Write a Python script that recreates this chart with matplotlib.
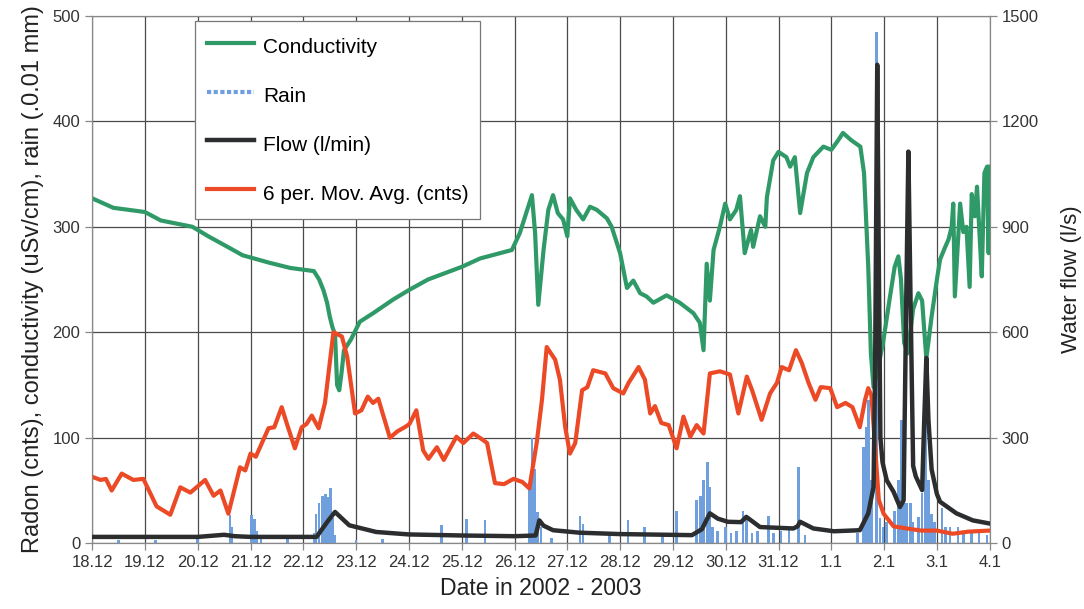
import matplotlib.pyplot as plt
import numpy as np

plt.rcParams['font.family'] = ['Liberation Sans', 'DejaVu Sans']

# x = days since 18.12.2002
day_labels = ['18.12', '19.12', '20.12', '21.12', '22.12', '23.12', '24.12', '25.12',
              '26.12', '27.12', '28.12', '29.12', '30.12', '31.12', '1.1', '2.1', '3.1', '4.1']

# Conductivity (uSv/cm), left axis
cond_t = [0, 0.4, 0.7, 1.0, 1.3, 1.9, 2.2, 2.6, 2.85, 3.35, 3.75, 4.2, 4.3, 4.38, 4.45,
          4.5, 4.55, 4.6, 4.64, 4.68, 4.72, 4.77, 4.9, 5.07, 5.32, 5.7, 6.0, 6.36, 7.0,
          7.35, 7.95, 8.1, 8.33, 8.39, 8.45, 8.55, 8.64, 8.73, 8.82, 8.92, 9.0, 9.05,
          9.17, 9.3, 9.43, 9.56, 9.75, 9.84, 10.0, 10.13, 10.25, 10.38, 10.5, 10.63,
          10.88, 11.13, 11.39, 11.51, 11.58, 11.64, 11.7, 11.77, 11.89, 11.99, 12.08,
          12.2, 12.27, 12.36, 12.48, 12.52, 12.65, 12.75, 12.78, 12.9, 13.0, 13.15, 13.22,
          13.31, 13.41, 13.54, 13.66, 13.85, 14.0, 14.13, 14.22, 14.38, 14.55, 14.62,
          14.7, 14.75, 14.8, 14.88, 14.98, 15.1, 15.2, 15.27, 15.32, 15.38, 15.45, 15.55,
          15.65, 15.72, 15.8, 15.9, 16.0, 16.06, 16.15, 16.22, 16.28, 16.31, 16.34, 16.44,
          16.5, 16.56, 16.62, 16.66, 16.72, 16.76, 16.8, 16.85, 16.9, 16.95, 16.98, 17.0]
cond = [327, 318, 316, 314, 306, 300, 291, 280, 273, 266, 261, 258, 250, 240, 228,
        215, 205, 198, 150, 145, 160, 183, 193, 210, 218, 231, 240, 250, 262,
        270, 278, 294, 330, 294, 226, 278, 316, 330, 313, 307, 291, 327,
        316, 307, 319, 316, 308, 300, 275, 242, 249, 237, 234, 228,
        235, 228, 218, 209, 183, 265, 230, 278, 300, 322, 307,
        316, 329, 275, 297, 281, 310, 300, 328, 363, 371, 366, 357,
        366, 313, 351, 366, 376, 373, 382, 389, 382, 376, 351,
        262, 180, 148, 165, 190, 230, 262, 272, 250, 190, 180, 222,
        237, 230, 175, 215, 250, 269, 280, 288, 300, 322, 234, 322,
        295, 300, 243, 331, 310, 338, 300, 253, 351, 357, 275, 357]

# Rain (0.01 mm), left axis
rain_t = [0.5, 1.2, 2.0, 2.61, 2.65, 3.02, 3.08, 3.12, 3.2, 3.7, 4.2, 4.24, 4.3, 4.36,
          4.42, 4.48, 4.52, 4.56, 4.6, 5.0, 5.5, 6.62, 7.09, 7.44, 8.28, 8.33, 8.38,
          8.44, 8.5, 8.7, 9.24, 9.3, 9.8, 10.15, 10.46, 10.8, 11.07, 11.45, 11.52, 11.58,
          11.65, 11.7, 11.75, 11.85, 12.0, 12.1, 12.2, 12.33, 12.39, 12.5, 12.6, 12.81,
          12.9, 13.05, 13.2, 13.38, 13.5, 14.5, 14.61, 14.66, 14.7, 14.76, 14.86, 14.92,
          14.98, 15.05, 15.2, 15.27, 15.33, 15.38, 15.43, 15.5, 15.55, 15.65, 15.72,
          15.78, 15.84, 15.9, 15.96, 16.1, 16.16, 16.25, 16.4, 16.5, 16.65, 16.8, 16.95]
rain = [3, 3, 4, 27, 15, 27, 23, 12, 8, 8, 10, 28, 38, 45,
        47, 44, 52, 24, 8, 3, 4, 17, 23, 22, 55, 100, 70,
        30, 15, 5, 26, 18, 8, 22, 15, 8, 31, 41, 45, 60,
        77, 53, 15, 12, 15, 10, 12, 31, 25, 10, 12, 26,
        10, 12, 15, 72, 8, 10, 91, 110, 136, 60, 485, 24,
        15, 20, 31, 60, 117, 77, 38, 38, 20, 25, 48,
        152, 60, 28, 20, 33, 15, 15, 15, 12, 10, 10, 8]

# Water flow (l/s), right axis
flow_t = [0, 2.0, 2.5, 2.7, 3.0, 4.25, 4.45, 4.6, 4.87, 5.38, 6.0, 7.0, 8.0, 8.4, 8.47,
          8.55, 8.73, 9.23, 10.0, 11.36, 11.55, 11.7, 11.85, 12.04, 12.29, 12.39, 12.65,
          13.28, 13.36, 13.41, 13.66, 14.05, 14.54, 14.7, 14.8, 14.83, 14.87, 14.9, 14.93,
          14.97, 15.05, 15.18, 15.3, 15.37, 15.42, 15.46, 15.5, 15.55, 15.6, 15.72, 15.76,
          15.8, 15.84, 15.9, 16.0, 16.06, 16.37, 16.68, 17.0]
flow = [18, 18, 24, 20, 18, 18, 60, 89, 51, 32, 25, 22, 20, 22, 65,
        50, 37, 30, 26, 23, 40, 85, 70, 61, 60, 75, 46,
        42, 48, 61, 42, 34, 37, 85, 160, 500, 1361, 800, 300,
        230, 179, 146, 103, 122, 700, 1114, 700, 220, 190, 151, 350,
        527, 350, 210, 140, 118, 85, 65, 56]

# 6 per. moving average radon (cnts), left axis
radon_t = [0, 0.16, 0.26, 0.37, 0.56, 0.78, 0.97, 1.22, 1.48, 1.67, 1.86, 2.14, 2.3, 2.43,
           2.58, 2.8, 2.9, 3.0, 3.1, 3.34, 3.45, 3.59, 3.69, 3.84, 3.97, 4.06, 4.16, 4.29,
           4.41, 4.57, 4.73, 4.83, 4.98, 5.1, 5.22, 5.32, 5.42, 5.64, 5.78, 5.92, 6.01,
           6.14, 6.27, 6.37, 6.53, 6.66, 6.9, 7.03, 7.22, 7.4, 7.48, 7.63, 7.8, 7.98, 8.15,
           8.28, 8.42, 8.52, 8.61, 8.77, 8.86, 8.96, 9.05, 9.15, 9.28, 9.38, 9.49, 9.72,
           9.87, 10.06, 10.16, 10.35, 10.47, 10.57, 10.66, 10.78, 10.92, 11.07, 11.2,
           11.33, 11.45, 11.58, 11.7, 11.89, 12.08, 12.24, 12.4, 12.5, 12.68, 12.84, 12.97,
           13.06, 13.2, 13.33, 13.44, 13.57, 13.7, 13.8, 13.98, 14.11, 14.27, 14.4, 14.54,
           14.64, 14.7, 14.76, 14.83, 14.9, 14.99, 15.18, 15.43, 15.7, 16.0, 16.3, 16.6, 17.0]
radon = [63, 60, 61, 50, 66, 60, 61, 35, 27, 53, 48, 60, 45, 50,
         28, 72, 69, 85, 82, 109, 110, 129, 113, 90, 110, 113, 121, 109,
         133, 200, 196, 177, 123, 126, 139, 133, 137, 100, 106, 110, 113,
         126, 88, 80, 91, 79, 101, 95, 104, 98, 95, 57, 56, 61, 58,
         52, 95, 136, 186, 174, 155, 110, 85, 95, 145, 148, 164, 161,
         147, 142, 152, 167, 155, 123, 130, 114, 112, 90, 120,
         101, 112, 104, 161, 163, 160, 123, 158, 145, 117, 142, 152,
         167, 164, 183, 171, 152, 136, 148, 147, 129, 133, 129, 110,
         136, 147, 140, 91, 41, 28, 16, 14, 12, 12, 9, 11, 12]

fig, ax = plt.subplots(figsize=(10.84, 6.09), dpi=100)
fig.subplots_adjust(left=0.085, right=0.913, bottom=0.108, top=0.974)
ax2 = ax.twinx()

ax.bar(rain_t, rain, width=0.05, color='#6f9fdc', zorder=2)
l_cond, = ax.plot(cond_t, cond, color='#2f9a68', lw=3.0, zorder=3)
l_radon, = ax.plot(radon_t, radon, color='#ec4a26', lw=3.0, zorder=4)
l_flow, = ax2.plot(flow_t, flow, color='#2b2d2f', lw=3.2, zorder=3)

ax.set_xlim(0, 17)
ax.set_ylim(0, 500)
ax2.set_ylim(0, 1500)
ax.set_xticks(np.arange(len(day_labels)))
ax.set_xticklabels(day_labels)
ax.set_yticks(np.arange(0, 501, 100))
ax2.set_yticks(np.arange(0, 1501, 300))

ax.grid(True, color='#4a4a4a', lw=0.9, zorder=0)
ax.set_axisbelow(True)
for a in (ax, ax2):
    for s in a.spines.values():
        s.set_color('#888888')
    a.tick_params(labelsize=12, colors='#333333', length=5, width=0.9)
    a.tick_params(axis='both', color='#888888')

ax.set_xlabel('Date in 2002 - 2003', fontsize=16.6, color='#222222', labelpad=5)
ax.set_ylabel('Radon (cnts), conductivity (uSv/cm), rain (.0.01 mm)', fontsize=17,
              color='#222222', labelpad=6)
ax2.set_ylabel('Water flow (l/s)', fontsize=16, color='#222222', labelpad=16)

rain_handle = plt.Line2D([], [], color='#6f9fdc', lw=3, ls=(0, (1, 0.6)))
leg = ax2.legend([l_cond, rain_handle, l_flow, l_radon],
                 ['Conductivity', 'Rain', 'Flow (l/min)', '6 per. Mov. Avg. (cnts)'],
                 loc='upper left', bbox_to_anchor=(0.1147, 0.9905), borderaxespad=0,
                 fontsize=15, frameon=True, fancybox=False, framealpha=1,
                 edgecolor='#777777', handlelength=2.3, handleheight=1.73,
                 labelspacing=0.97, borderpad=0.55, handletextpad=0.4)
leg.get_frame().set_linewidth(0.9)

fig.savefig('out.png', dpi=100)
